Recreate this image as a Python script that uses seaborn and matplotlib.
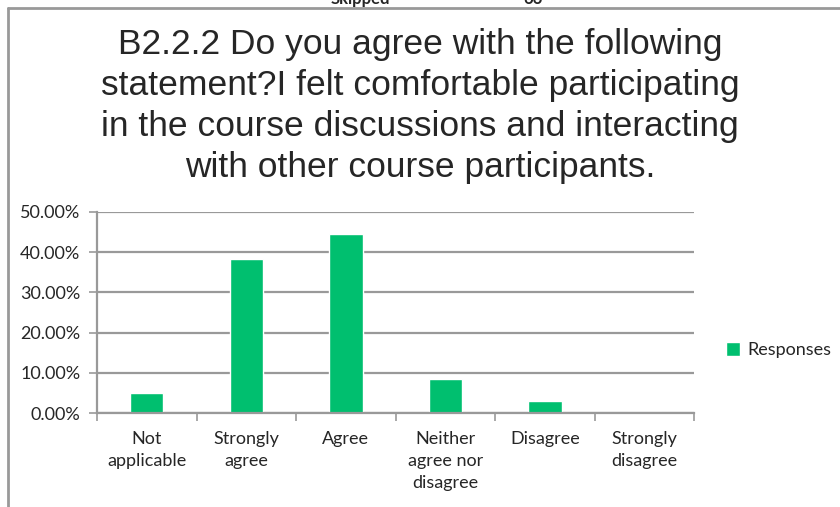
import matplotlib
matplotlib.use("Agg")
import matplotlib.pyplot as plt
import matplotlib.ticker as mticker
from matplotlib.lines import Line2D
from matplotlib.patches import Patch
import seaborn as sns

# data
categories = ["Not\napplicable", "Strongly\nagree", "Agree",
              "Neither\nagree nor\ndisagree", "Disagree", "Strongly\ndisagree"]
responses = [5.0, 38.2, 44.6, 8.5, 3.1, 0.3]
y_ticks = [0, 10, 20, 30, 40, 50]
title = ("B2.2.2 Do you agree with the following\n"
         "statement?I felt comfortable participating\n"
         "in the course discussions and interacting\n"
         "with other course participants.")

green = "#00BF6F"
grey = "#999999"

sns.set_style("white")
plt.rcParams['font.family'] = ['Lato', 'DejaVu Sans']

fig = plt.figure(figsize=(8.4, 5.07), dpi=100)
ax = fig.add_axes([0.1155, 0.1854, 0.711, 0.3969])

sns.barplot(x=categories, y=responses, color=green, width=0.335,
            saturation=1, ax=ax)

ax.set_xlim(-0.5, 5.5)
ax.set_ylim(0, 50)
ax.set_yticks(y_ticks)
ax.yaxis.set_major_formatter(mticker.FormatStrFormatter('%.2f%%'))
ax.yaxis.grid(True, color=grey, linewidth=1.6)
ax.set_axisbelow(True)
ax.tick_params(axis='y', length=6, color=grey, width=1.2, labelsize=13,
               left=True, pad=6)
ax.set_xticks(range(len(categories)))
ax.set_xticklabels(categories, fontsize=13, linespacing=1.45)
ax.set_xticks([i - 0.5 for i in range(len(categories) + 1)], minor=True)
ax.tick_params(axis='x', which='major', length=0, pad=13)
ax.tick_params(axis='x', which='minor', length=6, color=grey, width=1.2, bottom=True)
for s in ['top', 'right']:
    ax.spines[s].set_visible(False)
for s in ['left', 'bottom']:
    ax.spines[s].set_color(grey)
    ax.spines[s].set_linewidth(1.6)

fig.text(0.5, 1 - 28 / 507, title, ha='center', va='top', fontsize=25.5,
         family=['Liberation Sans', 'DejaVu Sans'], linespacing=1.31)

ax.legend(handles=[Patch(facecolor=green, label="Responses")],
          loc='center left', bbox_to_anchor=(0.864, 0.31),
          bbox_transform=fig.transFigure, frameon=False, fontsize=13,
          handlelength=0.8, handleheight=0.8, handletextpad=0.4,
          borderaxespad=0, borderpad=0)

# clipped text above frame and frame lines
fig.text(360 / 840, 1 - 4 / 507, "Skipped", ha='center', va='baseline',
         fontsize=12, fontweight='bold')
fig.text(533 / 840, 1 - 4 / 507, "66", ha='center', va='baseline',
         fontsize=12, fontweight='bold')
fig.add_artist(Line2D([8 / 840, 1], [1 - 8 / 507, 1 - 8 / 507],
                      color=grey, linewidth=2))
fig.add_artist(Line2D([8 / 840, 8 / 840], [0, 1 - 8 / 507],
                      color=grey, linewidth=2))

fig.savefig("out.png", dpi=100)
